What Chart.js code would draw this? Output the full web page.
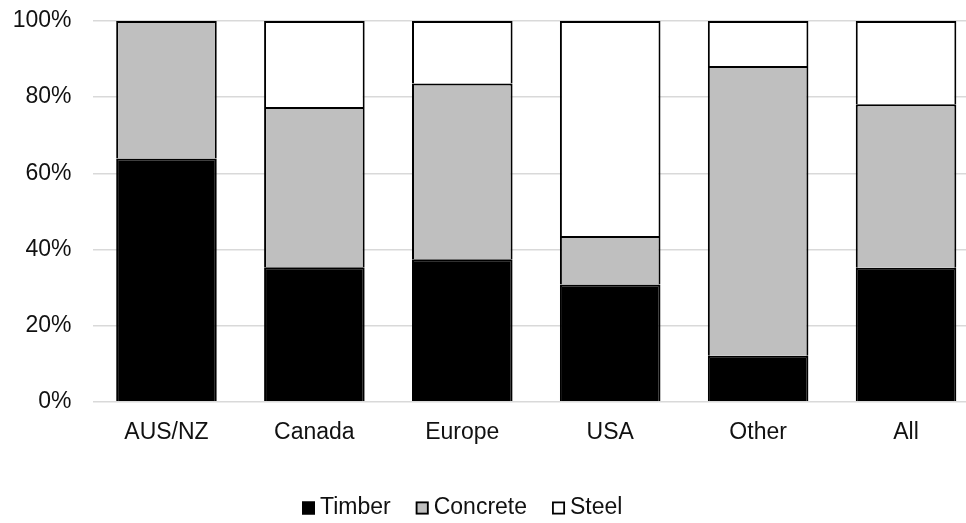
<!DOCTYPE html>
<html>
<head>
<meta charset="utf-8">
<script src="https://cdn.jsdelivr.net/npm/chart.js@4/dist/chart.umd.min.js"></script>
<style>
  html, body { margin: 0; padding: 0; background: #fff; overflow: hidden; }
  #wrap { width: 980px; height: 523px; }
</style>
</head>
<body>
<div id="wrap"><canvas id="c" width="980" height="523"></canvas></div>
<script>
// Share of structural material by region (percent of projects)
const regions = ['AUS/NZ', 'Canada', 'Europe', 'USA', 'Other', 'All'];
const timber = [63.9, 35.3, 37.4, 30.8, 12.1, 35.2];
const concrete = [36.1, 42.1, 46.2, 12.7, 76.1, 42.9];
const steel = [0, 22.6, 16.4, 56.5, 11.8, 21.9];
const yTicks = [0, 20, 40, 60, 80, 100];

const FONT = 'Liberation Sans, Arial, sans-serif';
const TEXT = '#111';

// Legend drawn in one row below the axis labels: square swatch, then label
const rowLegend = {
  id: 'rowLegend',
  afterDraw(chart) {
    const ctx = chart.ctx;
    ctx.save();
    ctx.font = '23px ' + FONT;
    ctx.textBaseline = 'middle';
    const y = 508;
    const box = 13;
    let x = 302;
    chart.data.datasets.forEach(ds => {
      ctx.fillStyle = ds.backgroundColor;
      ctx.fillRect(x, y - box / 2, box, box);
      ctx.lineWidth = 1.8;
      ctx.strokeStyle = '#000';
      ctx.strokeRect(x + 0.9, y - box / 2 + 0.9, box - 1.8, box - 1.8);
      ctx.fillStyle = TEXT;
      ctx.fillText(ds.label, x + box + 5, y);
      x += box + 5 + ctx.measureText(ds.label).width + 25;
    });
    ctx.restore();
  }
};

new Chart(document.getElementById('c'), {
  type: 'bar',
  data: {
    labels: regions,
    datasets: [
      { label: 'Timber', data: timber, backgroundColor: '#000000' },
      { label: 'Concrete', data: concrete, backgroundColor: '#bfbfbf' },
      { label: 'Steel', data: steel, backgroundColor: '#ffffff' }
    ]
  },
  options: {
    responsive: false,
    animation: false,
    devicePixelRatio: 1,
    layout: { padding: { top: 21, left: 0, right: 0, bottom: 0 } },
    datasets: {
      bar: {
        categoryPercentage: 1,
        barPercentage: 0.68,
        borderColor: '#000',
        borderWidth: 2
      }
    },
    plugins: {
      legend: { display: false },
      tooltip: { enabled: false }
    },
    scales: {
      x: {
        stacked: true,
        grid: { display: false },
        border: { display: false },
        ticks: { font: { family: FONT, size: 23 }, color: TEXT, padding: 9 },
        afterFit(s) { s.height = 121.3; }
      },
      y: {
        stacked: true,
        min: 0,
        max: 100,
        afterBuildTicks(s) { s.ticks = yTicks.map(v => ({ value: v })); },
        grid: { color: '#d9d9d9', lineWidth: 1.5, drawTicks: false },
        border: { display: false },
        ticks: {
          font: { family: FONT, size: 23 },
          color: TEXT,
          padding: 21,
          callback: v => v + '%'
        },
        afterFit(s) {
          s.width = 92.5;
          s.paddingTop = 0;
          s.paddingBottom = 0;
        }
      }
    }
  },
  plugins: [rowLegend]
});
</script>
</body>
</html>
